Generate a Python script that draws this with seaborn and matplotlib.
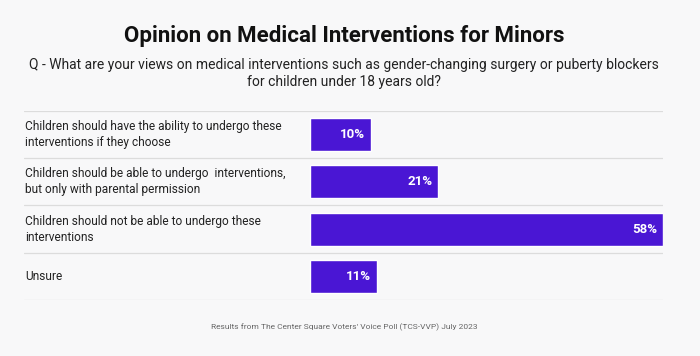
import numpy as np
import pandas as pd
import matplotlib
matplotlib.use("Agg")
import matplotlib.pyplot as plt
import seaborn as sns

categories = [
    "Children should have the ability to undergo these\ninterventions if they choose",
    "Children should be able to undergo  interventions,\nbut only with parental permission",
    "Children should not be able to undergo these\ninterventions",
    "Unsure",
]
values = [10, 21, 58, 11]
value_labels = ["10%", "21%", "58%", "11%"]

df = pd.DataFrame({"answer": categories, "pct": values})

bg = "#f8f8f9"
bar_color = "#4a16d4"

sns.set_theme(style="white")
plt.rcParams["font.family"] = ["Roboto", "DejaVu Sans"]

W, H = 700, 356
fig = plt.figure(figsize=(7, 3.56), dpi=100, facecolor=bg)
# axes from x=24 to 663 px, y=111 to 300 px
ax = fig.add_axes([24 / W, 1 - 300 / H, (663 - 24) / W, (300 - 111) / H])
ax.set_facecolor(bg)

sns.barplot(data=df, x="pct", y="answer", order=categories, color=bar_color,
            width=0.7, saturation=1, ax=ax)

# x so that 0 lands at 310 px
scale = (663 - 310) / 58
ax.set_xlim(-(310 - 24) / scale, 58)
ax.set_ylim(3.5, -0.5)

for i, (cat, v, lab) in enumerate(zip(categories, values, value_labels)):
    ax.text(v - 0.9, i, lab, ha="right", va="center", color="white",
            fontsize=9.5, fontweight="bold")
    ax.text(-(310 - 25) / scale, i, cat, ha="left", va="center", color="#222222",
            fontsize=8.6, linespacing=1.3)

for yy in np.arange(-0.5, 4, 1):
    ax.axhline(yy, color="#dcdcdc", lw=0.9, zorder=0)

ax.set_xlabel("")
ax.set_ylabel("")
ax.set_xticks([])
ax.set_yticks([])
for s in ax.spines.values():
    s.set_visible(False)

cx = 344 / W
fig.text(cx, 1 - 36 / H, "Opinion on Medical Interventions for Minors",
         ha="center", va="center", fontsize=16, fontweight="bold", color="#111111")
fig.text(cx, 1 - 73.5 / H,
         "Q - What are your views on medical interventions such as gender-changing surgery or puberty blockers\nfor children under 18 years old?",
         ha="center", va="center", fontsize=10, color="#222222", linespacing=1.3)
fig.text(cx, 1 - 327 / H,
         "Results from The Center Square Voters' Voice Poll (TCS-VVP) July 2023",
         ha="center", va="center", fontsize=6.0, color="#666666")

fig.savefig("out.png", dpi=100, facecolor=bg)
